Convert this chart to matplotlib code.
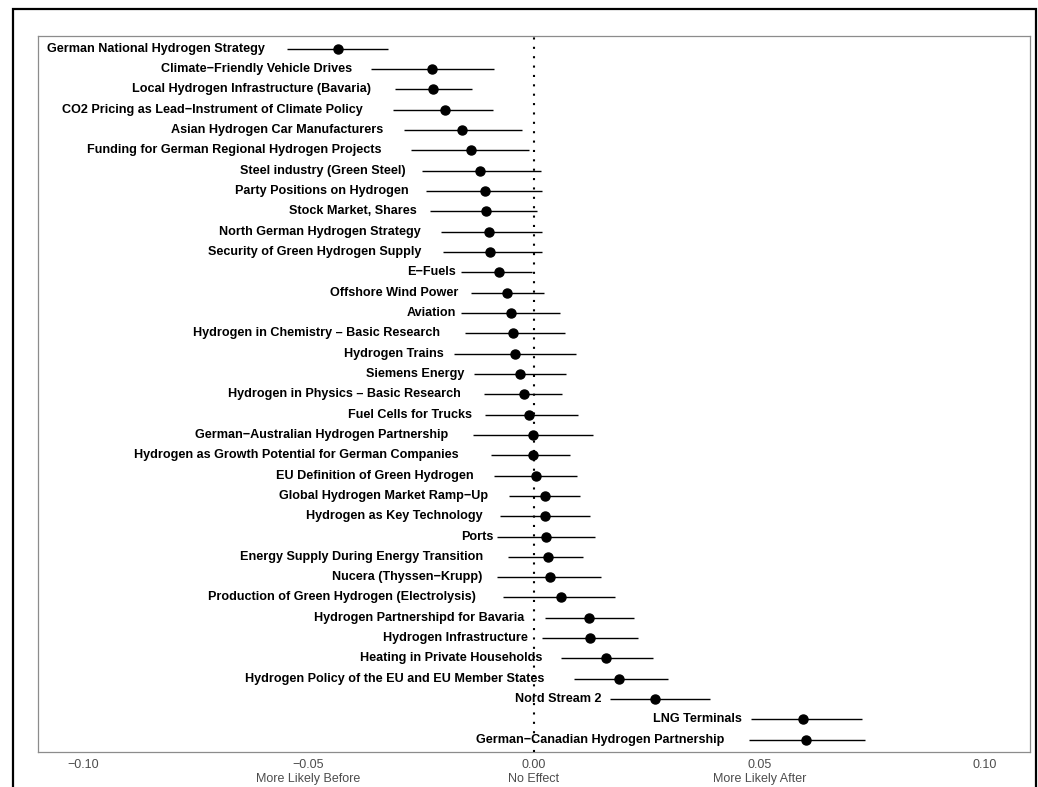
import matplotlib
matplotlib.use("Agg")
import matplotlib.pyplot as plt
from matplotlib.patches import Rectangle
from matplotlib.transforms import offset_copy

# topics, top to bottom
topics = [
    "German National Hydrogen Strategy",
    "Climate\u2212Friendly Vehicle Drives",
    "Local Hydrogen Infrastructure (Bavaria)",
    "CO2 Pricing as Lead\u2212Instrument of Climate Policy",
    "Asian Hydrogen Car Manufacturers",
    "Funding for German Regional Hydrogen Projects",
    "Steel industry (Green Steel)",
    "Party Positions on Hydrogen",
    "Stock Market, Shares",
    "North German Hydrogen Strategy",
    "Security of Green Hydrogen Supply",
    "E\u2212Fuels",
    "Offshore Wind Power",
    "Aviation",
    "Hydrogen in Chemistry \u2013 Basic Research",
    "Hydrogen Trains",
    "Siemens Energy",
    "Hydrogen in Physics \u2013 Basic Research",
    "Fuel Cells for Trucks",
    "German\u2212Australian Hydrogen Partnership",
    "Hydrogen as Growth Potential for German Companies",
    "EU Definition of Green Hydrogen",
    "Global Hydrogen Market Ramp\u2212Up",
    "Hydrogen as Key Technology",
    "Ports",
    "Energy Supply During Energy Transition",
    "Nucera (Thyssen\u2212Krupp)",
    "Production of Green Hydrogen (Electrolysis)",
    "Hydrogen Partnershipd for Bavaria",
    "Hydrogen Infrastructure",
    "Heating in Private Households",
    "Hydrogen Policy of the EU and EU Member States",
    "Nord Stream 2",
    "LNG Terminals",
    "German\u2212Canadian Hydrogen Partnership",
]

estimate = [
    -0.0435, -0.0226, -0.0224, -0.0197, -0.0160, -0.0140, -0.0120, -0.0109,
    -0.0106, -0.0100, -0.0098, -0.0078, -0.0060, -0.0051, -0.0047, -0.0042,
    -0.0031, -0.0022, -0.0011, -0.0002, -0.0002, 0.0004, 0.0024, 0.0024,
    0.0027, 0.0031, 0.0035, 0.0060, 0.0122, 0.0124, 0.0160, 0.0188,
    0.0268, 0.0596, 0.0603,
]
ci_low = [
    -0.0548, -0.0361, -0.0308, -0.0313, -0.0288, -0.0273, -0.0248, -0.0239,
    -0.0231, -0.0206, -0.0202, -0.0162, -0.0140, -0.0162, -0.0153, -0.0177,
    -0.0133, -0.0111, -0.0109, -0.0135, -0.0095, -0.0089, -0.0055, -0.0075,
    -0.0082, -0.0058, -0.0082, -0.0069, 0.0024, 0.0018, 0.0060, 0.0089,
    0.0169, 0.0481, 0.0477,
]
ci_high = [
    -0.0324, -0.0089, -0.0137, -0.0091, -0.0027, -0.0011, 0.0016, 0.0018,
    0.0007, 0.0018, 0.0018, -0.0004, 0.0022, 0.0058, 0.0069, 0.0093,
    0.0071, 0.0062, 0.0098, 0.0131, 0.0080, 0.0095, 0.0102, 0.0124,
    0.0135, 0.0109, 0.0149, 0.0180, 0.0222, 0.0231, 0.0264, 0.0297,
    0.0390, 0.0727, 0.0734,
]

x_ticks = [-0.10, -0.05, 0.00, 0.05, 0.10]
x_tick_labels = [
    "\u22120.10\n",
    "\u22120.05\nMore Likely Before",
    "0.00\nNo Effect",
    "0.05\nMore Likely After",
    "0.10\n",
]

plt.rcParams["font.family"] = ["Liberation Sans", "DejaVu Sans"]

fig = plt.figure(figsize=(10.38, 7.87), dpi=100)
ax = fig.add_axes([38 / 1038, 1 - 752 / 787, (1030 - 38) / 1038, (752 - 36) / 787])

rows = list(range(1, len(topics) + 1))

ax.hlines(rows, ci_low, ci_high, color="black", linewidth=1.0, zorder=2)
ax.plot(estimate, rows, "o", color="black", markersize=6.5, zorder=3)
ax.axvline(0, color="black", linestyle=(0, (1, 3.5)), linewidth=1.5, zorder=5)

ax.set_xlim(-0.11, 0.11)
ax.set_ylim(35.6, 0.38)
ax.set_yticks([])
ax.set_xticks(x_ticks)
ax.set_xticklabels(x_tick_labels, fontsize=9, color="#4d4d4d", linespacing=1.25)
ax.tick_params(axis="x", length=0, pad=5)
for sp in ax.spines.values():
    sp.set_color("#8c8c8c")
    sp.set_linewidth(0.9)

# labels right-aligned left of lower bound, pushed out by 10% of their own width
renderer = fig.canvas.get_renderer()
for name, lo, y in zip(topics, ci_low, rows):
    t = ax.text(lo, y, name, ha="right", va="center", fontsize=9.1,
                fontweight="bold", color="black", zorder=4)
    w = t.get_window_extent(renderer).width
    t.set_transform(offset_copy(ax.transData, fig=fig, x=-0.1 * w, y=0, units="dots"))

fig.patches.append(Rectangle((13 / 1038, -0.05), (1036 - 13) / 1038, 1.05 - 9 / 787,
                             transform=fig.transFigure, fill=False,
                             edgecolor="black", linewidth=1.6))

fig.savefig("out.png", dpi=100)
